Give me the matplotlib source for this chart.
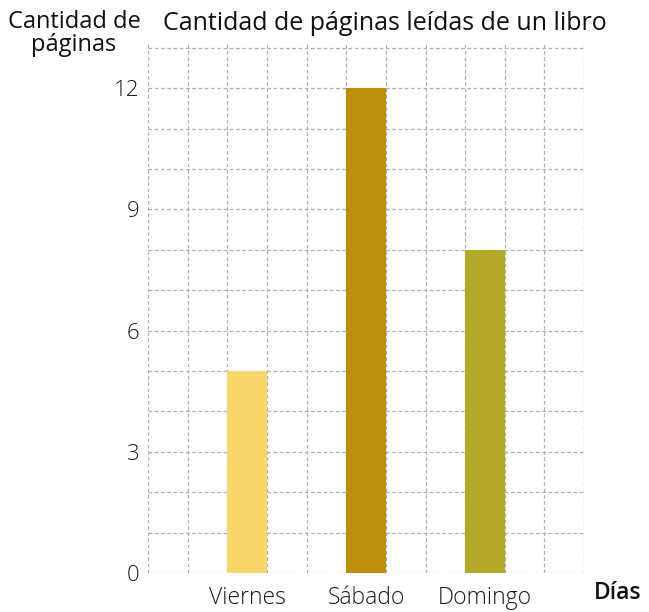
import matplotlib
matplotlib.use("Agg")
from matplotlib import pyplot as plt

dias = ["Viernes", "Sábado", "Domingo"]
paginas = [5, 12, 8]
colores = ["#F9D66B", "#BC8E09", "#B3AA2A"]
y_etiquetas = [0, 3, 6, 9, 12]

plt.rcParams["font.family"] = ["Open Sans", "DejaVu Sans"]

fig = plt.figure(figsize=(6.49, 6.12), dpi=100)
ax = fig.add_axes([0.228, 0.0637, 0.672, 0.866])

posiciones = [2.5, 5.5, 8.5]
ax.bar(posiciones, paginas, width=1.0, color=colores, zorder=3)

ax.set_xlim(0, 11)
ax.set_ylim(0, 13.12)

ax.set_xticks(posiciones)
ax.set_xticklabels(dias, fontsize=16.5, fontweight="light", color="#1a1a1a")
ax.set_yticks(y_etiquetas)
ax.set_yticklabels([str(v) for v in y_etiquetas], fontsize=16, fontweight="light", color="#1a1a1a")
ax.tick_params(which="both", length=0)
ax.tick_params(axis="x", pad=9)
ax.tick_params(axis="y", pad=6)

ax.grid(False)
for x in range(0, 12):
    ax.axvline(x, color="#b0b0b0", linestyle=(0, (3, 2)), linewidth=0.9, zorder=1)
for y in range(0, 14):
    ax.axhline(y, color="#b0b0b0", linestyle=(0, (3, 2)), linewidth=0.9, zorder=1)
for s in ax.spines.values():
    s.set_visible(False)

fig.text(0.251, 0.962, "Cantidad de páginas leídas de un libro", fontsize=18,
         ha="left", va="center", color="#111111")
fig.text(0.114, 0.945, "Cantidad de\npáginas", fontsize=17, ha="center",
         va="center", linespacing=0.95, color="#111111")
fig.text(0.951, 0.031, "Días", fontsize=16.5, fontweight="semibold", ha="center",
         va="center", color="#111111")

fig.savefig("out.png", dpi=100)
